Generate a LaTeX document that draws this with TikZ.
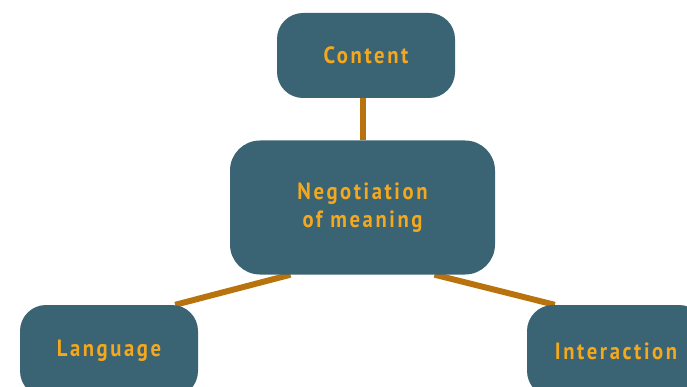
\documentclass[tikz,border=0pt]{standalone}
\usepackage{fontspec}
\setmainfont{PT Sans}[LetterSpace=11,FakeStretch=0.88]
\usetikzlibrary{calc,backgrounds}
\definecolor{boxc}{HTML}{3A6374}
\definecolor{txtc}{HTML}{F5A81C}
\definecolor{linec}{HTML}{B8730F}
\tikzset{
  topic/.style={draw=none, fill=boxc, rounded corners=26pt, text=txtc,
    font=\fontsize{23.5}{28}\selectfont\bfseries, align=center,
    inner sep=0pt, minimum width=178pt, minimum height=85pt},
  bigtopic/.style={topic, minimum width=265pt, minimum height=134pt, rounded corners=30pt},
  low/.style={topic, minimum height=92pt},
  link/.style={draw=linec, line width=6pt}
}
\begin{document}
\begin{tikzpicture}[x=1pt,y=-1pt]
\useasboundingbox (0,0) rectangle (687,387);
\node[topic] (content) at (366,55.5) {Content};
\node[bigtopic] (neg) at (362.5,207.5) {Negotiation\\of meaning};
\node[low] (lang) at (109,351) {Language};
\node[low] (inter) at (616,351) {Interaction};
\begin{scope}[on background layer]
\draw[link] (neg.north |- content.south) -- (neg.north);
\draw[link] ($(neg.south)+(-72,0)$) -- ($(lang.north east)+(-23,0)$);
\draw[link] ($(neg.south)+(72,0)$) -- ($(inter.north west)+(28,0)$);
\end{scope}
\end{tikzpicture}
\end{document}
